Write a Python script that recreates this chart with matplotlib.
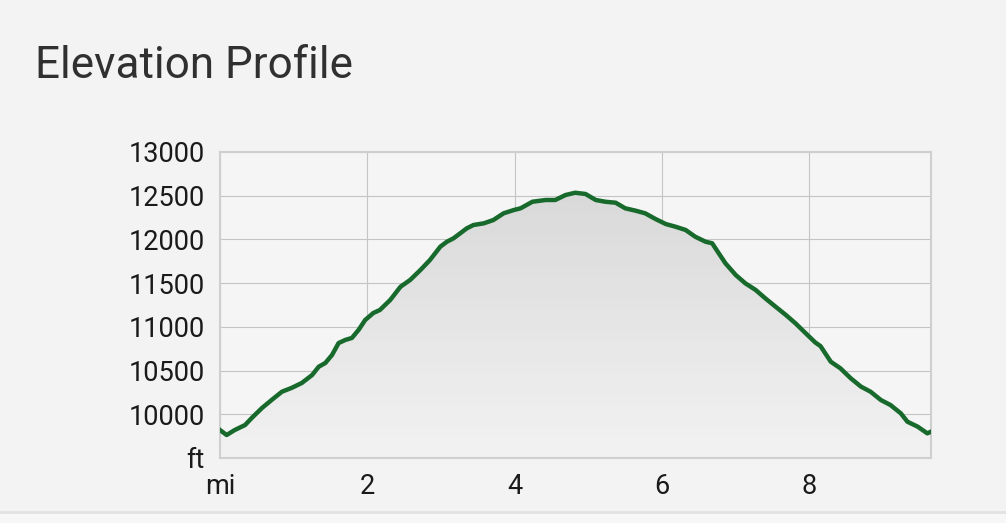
import numpy as np
import matplotlib
matplotlib.use("Agg")
import matplotlib.pyplot as plt
from matplotlib.colors import LinearSegmentedColormap

plt.rcParams['font.family'] = ['Roboto', 'DejaVu Sans']

# distance (mi) and elevation (ft)
miles = [0.00, 0.09, 0.20, 0.34, 0.43, 0.57, 0.70, 0.84, 0.97, 1.11,
         1.25, 1.34, 1.43, 1.52, 1.61, 1.70, 1.79, 1.88, 1.97, 2.08,
         2.17, 2.31, 2.45, 2.58, 2.72, 2.85, 2.99, 3.08, 3.17, 3.26,
         3.35, 3.44, 3.58, 3.71, 3.85, 3.99, 4.08, 4.24, 4.42, 4.55,
         4.69, 4.82, 4.96, 5.10, 5.23, 5.37, 5.50, 5.64, 5.77, 5.91,
         6.05, 6.18, 6.32, 6.45, 6.59, 6.68, 6.77, 6.86, 7.00, 7.13,
         7.27, 7.40, 7.54, 7.68, 7.81, 7.95, 8.08, 8.15, 8.29, 8.42,
         8.56, 8.70, 8.83, 8.97, 9.10, 9.24, 9.33, 9.47, 9.60, 9.65]
elev_ft = [9820, 9763, 9820, 9877, 9957, 10072, 10163, 10258, 10301, 10358,
           10449, 10544, 10587, 10678, 10815, 10850, 10873, 10964, 11078, 11158,
           11193, 11307, 11459, 11536, 11650, 11765, 11917, 11974, 12013, 12070,
           12127, 12165, 12184, 12222, 12299, 12337, 12356, 12431, 12451, 12451,
           12508, 12534, 12520, 12451, 12431, 12420, 12356, 12329, 12299, 12234,
           12176, 12146, 12108, 12031, 11974, 11956, 11841, 11727, 11593, 11498,
           11422, 11327, 11231, 11136, 11041, 10926, 10821, 10780, 10601, 10526,
           10412, 10316, 10258, 10163, 10106, 10011, 9915, 9858, 9782, 9801]

x_ticks = [0, 2, 4, 6, 8]
x_labels = ['mi', '2', '4', '6', '8']
y_ticks = [9500, 10000, 10500, 11000, 11500, 12000, 12500, 13000]
y_labels = ['ft', '10000', '10500', '11000', '11500', '12000', '12500', '13000']

bg = '#f3f3f3'
fig = plt.figure(figsize=(10.06, 5.23), dpi=100, facecolor=bg)
ax = fig.add_axes([220 / 1006, 1 - 458 / 523, 711 / 1006, 306 / 523])
ax.set_facecolor('#f5f5f5')

x0, x1 = 0, max(miles)
y0, y1 = 9500, 13000

# grey gradient under the curve
poly = ax.fill_between(miles, elev_ft, y0, color='none', lw=0)
cmap = LinearSegmentedColormap.from_list('g', ['#f2f2f2', '#d9d9d9'])
grad = np.linspace(0, 1, 256).reshape(-1, 1)
im = ax.imshow(grad, extent=[x0, x1, y0, 12550], origin='lower', cmap=cmap,
               aspect='auto', zorder=1)
path = poly.get_paths()[0]
im.set_clip_path(path, transform=ax.transData)

ax.plot(miles, elev_ft, color='#176a2c', lw=3.2, zorder=3,
        solid_joinstyle='round')

ax.set_xlim(x0, x1)
ax.set_ylim(y0, y1)
ax.set_xticks(x_ticks)
ax.set_xticklabels(x_labels)
ax.set_yticks(y_ticks)
ax.set_yticklabels(y_labels)
ax.tick_params(length=0, labelsize=19.5, colors='#1a1a1a')
ax.tick_params(axis='y', pad=11)
ax.tick_params(axis='x', pad=11)
ax.grid(True, color='#c4c4c4', lw=0.8, zorder=2)
ax.set_axisbelow(True)
for s in ax.spines.values():
    s.set_color('#cfcfcf')
    s.set_linewidth(1.5)

fig.text(35 / 1006, 1 - 78 / 523, 'Elevation Profile', fontsize=31.7,
         color='#303030', va='baseline', ha='left')

# bottom separator band
fig.add_artist(plt.Line2D([0, 1], [1 - 512 / 523] * 2, color='#e2e2e2', lw=2,
                          transform=fig.transFigure))
fig.patches.append(plt.Rectangle((0, 0), 1, 1 - 513 / 523, color='#f7f7f7',
                                 transform=fig.transFigure, zorder=-1))

fig.savefig('out.png', dpi=100, facecolor=bg)
